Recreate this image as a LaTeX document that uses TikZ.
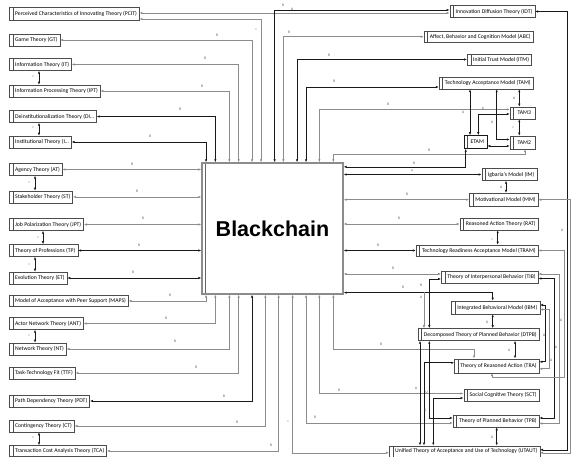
\documentclass[tikz,border=0pt]{standalone}
\usepackage{fontspec}
\setmainfont{Carlito}
\newfontfamily\headfont{Liberation Sans}
\usetikzlibrary{arrows.meta}

\begin{document}
\begin{tikzpicture}
[
	x = 1pt, y = -1pt,
	theory/.style	= {draw = black!70, fill = white, line width = 0.5pt, minimum height = 12pt, inner xsep = 2.4pt, inner ysep = 0pt, font = \fontsize{5.7}{6.5}\selectfont, execute at begin node = \hspace*{3.5pt}, path picture = {\draw [black!70, line width = 0.4pt] ([xshift = 3.5pt]path picture bounding box.north west) -- ([xshift = 3.5pt]path picture bounding box.south west);}},
	lbox/.style	= {theory, anchor = west},
	rbox/.style	= {theory, anchor = east},
	core/.style	= {draw = black!45, line width = 1.3pt, fill = white, minimum width = 141pt, minimum height = 131pt, inner sep = 0pt, font = \headfont\bfseries\fontsize{21.5}{24}\selectfont, path picture = {\draw [black!60, line width = 0.4pt] ([xshift = 3pt]path picture bounding box.north west) -- ([xshift = 3pt]path picture bounding box.south west);}},
	link/.style	= {draw = black!45, line width = 0.6pt, {Latex[length = 3pt, width = 2.4pt]}-{Latex[length = 3pt, width = 2.4pt]}},
	dlink/.style	= {link, draw = black!90},
	tag/.style	= {font = \fontsize{3.6}{4}\selectfont, text = black!70, inner sep = 0pt},
]
	\useasboundingbox (0, 0) rectangle (571, 457);

	\node (bc) [core] at (272.5, 228.5) {Blackchain};

	% left column
	\node (pcit) [lbox, minimum height = 13pt] at (9, 14) {Perceived Characteristics of Innovating Theory (PCIT)};
	\node (gt) [lbox] at (9, 40) {Game Theory (GT)};
	\node (infot) [lbox] at (9, 64.5) {Information Theory (IT)};
	\node (ipt) [lbox] at (9, 91) {Information Processing Theory (IPT)};
	\node (deinst) [lbox] at (9, 116.5) {Deinstitutionalization Theory (DI\ldots};
	\node (inst) [lbox] at (9, 142) {Institutional Theory (I\ldots};
	\node (agt) [lbox] at (9, 169.5) {Agency Theory (AT)};
	\node (st) [lbox] at (9, 197) {Stakeholder Theory (ST)};
	\node (jpt) [lbox] at (9, 224.5) {Job Polarization Theory (JPT)};
	\node (tp) [lbox] at (9, 250.5) {Theory of Professions (TP)};
	\node (et) [lbox] at (9, 278) {Evolution Theory (ET)};
	\node (maps) [lbox, minimum height = 11pt] at (9, 301) {Model of Acceptance with Peer Support (MAPS)};
	\node (ant) [lbox] at (9, 323.5) {Actor Network Theory (ANT)};
	\node (nt) [lbox] at (9, 349) {Network Theory (NT)};
	\node (ttf) [lbox] at (9, 373) {Task-Technology Fit (TTF)};
	\node (pdt) [lbox] at (9, 401) {Path Dependency Theory (PDT)};
	\node (ct) [lbox] at (9, 426) {Contingency Theory (CT)};
	\node (tca) [lbox, minimum height = 11pt] at (9, 451) {Transaction Cost Analysis Theory (TCA)};

	% right column
	\node (idt) [rbox] at (535, 11.5) {Innovation Diffusion Theory (IDT)};
	\node (abc) [rbox, minimum height = 11pt] at (533.3, 36.7) {Affect, Behavior and Cognition Model (ABC)};
	\node (itm) [rbox, minimum height = 11pt] at (531.7, 59.5) {Initial Trust Model (ITM)};
	\node (tam) [rbox] at (533.3, 83) {Technology Acceptance Model (TAM)};
	\node (tam3) [theory, minimum width = 25pt] at (522.5, 113) {TAM3};
	\node (etam) [theory, minimum width = 23pt, minimum height = 13pt, draw = black!90] at (475.5, 142) {ETAM};
	\node (tam2) [theory, minimum width = 25pt, minimum height = 13pt] at (522.5, 142.5) {TAM2};
	\node (im) [rbox] at (537, 174.5) {Igbaria's Model (IM)};
	\node (mm) [rbox, minimum height = 13pt] at (538.3, 199.7) {Motivational Model (MM)};
	\node (rat) [rbox] at (538.3, 224) {Reasoned Action Theory (RAT)};
	\node (tram) [rbox, minimum height = 11pt] at (538.3, 250.5) {Technology Readiness Acceptance Model (TRAM)};
	\node (tib) [rbox] at (538.3, 277) {Theory of Interpersonal Behavior (TIB)};
	\node (ibm) [rbox, minimum height = 13pt] at (540, 307.5) {Integrated Behavioral Model (IBM)};
	\node (dtpb) [rbox] at (539.3, 334.5) {Decomposed Theory of Planned Behavior (DTPB)};
	\node (tra) [rbox, minimum height = 14pt] at (539.3, 365.8) {Theory of Reasoned Action (TRA)};
	\node (sct) [rbox] at (539.3, 395) {Social Cognitive Theory (SCT)};
	\node (tpb) [rbox] at (539.3, 421) {Theory of Planned Behavior (TPB)};
	\node (utaut) [rbox, minimum height = 11pt] at (540, 451.3) {Unified Theory of Acceptance and Use of Technology (UTAUT)};

	\coordinate (fork) at (424, 292);

	% left column into the core
	\draw [link] ([yshift = -5pt]pcit.east) -| ([xshift = 59.7pt]bc.north west);
	\draw [link] (gt.east) -| ([xshift = 50.7pt]bc.north west);
	\draw [link] (infot.east) -| ([xshift = 37.3pt]bc.north west);
	\draw [link] (ipt.east) -| ([xshift = 28pt]bc.north west);
	\draw [dlink] (deinst.east) -| ([xshift = 14pt]bc.north west);
	\draw [dlink] (inst.east) -| ([xshift = 4.7pt]bc.north west);
	%
	\draw [link] (agt.east) -- (agt.east -| bc.west);
	\draw [link] (st.east) -- (st.east -| bc.west);
	\draw [link] (jpt.east) -- (jpt.east -| bc.west);
	\draw [dlink] (tp.east) -- (tp.east -| bc.west);
	\draw [dlink] (et.east) -- (et.east -| bc.west);
	%
	\draw [link] (maps.east) -| ([xshift = 4.7pt]bc.south west);
	\draw [link] (ant.east) -| ([xshift = 14pt]bc.south west);
	\draw [link] (nt.east) -| ([xshift = 28pt]bc.south west);
	\draw [link] (ttf.east) -| ([xshift = 37.3pt]bc.south west);
	\draw [dlink] (pdt.east) -| ([xshift = 50.7pt]bc.south west);
	\draw [link] (ct.east) -| ([xshift = 64pt]bc.south west);
	\draw [link] (tca.east) -| ([xshift = 77.3pt]bc.south west);

	% pairs on the left
	\draw [dlink] ([xshift = 30pt]infot.south west) -- ([xshift = 30pt]ipt.north west);
	\draw [dlink] ([xshift = 30pt]deinst.south west) -- ([xshift = 30pt]inst.north west);
	\draw [dlink] ([xshift = 26pt]agt.south west) -- ([xshift = 26pt]st.north west);
	\draw [dlink] ([xshift = 34pt]jpt.south west) -- ([xshift = 34pt]tp.north west);
	\draw [dlink] ([xshift = 26pt]tp.south west) -- ([xshift = 26pt]et.north west);
	\draw [dlink] ([xshift = 26pt]ant.south west) -- ([xshift = 26pt]nt.north west);
	\draw [dlink] ([xshift = 30pt]ct.south west) -- ([xshift = 30pt]tca.north west);

	% core to the right column, over the top
	\draw [link] ([yshift = 1pt]pcit.east) -- ([yshift = -1.5pt]idt.west);
	\draw [dlink] ([xshift = 73.3pt]bc.north west) |- ([yshift = 1.5pt]idt.west);
	\draw [link] ([xshift = 82pt]bc.north west) |- (abc.west);
	\draw [dlink] ([xshift = 95.7pt]bc.north west) |- (itm.west);
	\draw [dlink] ([xshift = 104.7pt]bc.north west) |- ([yshift = -4pt]tam.west);
	\draw [link] ([xshift = 118pt]bc.north west) |- ([yshift = 3.5pt]tam3.west);
	\draw [link] ([xshift = 132pt]bc.north west) |- ([xshift = 2.5pt, yshift = -5pt]tam2.south) -- ([xshift = 2.5pt]tam2.south);

	% TAM family
	\draw [dlink] ([xshift = -63.3pt]tam.south east) -- ([xshift = -5.5pt]etam.north);
	\draw [dlink] ([xshift = -36.6pt]tam.south east) |- ([yshift = 3pt]tam2.west);
	\draw [dlink] ([xshift = -14pt]tam.south east) -- ([xshift = -3.2pt]tam3.north);
	\draw [dlink] ([xshift = -3.2pt]tam3.south) -- ([xshift = -3.2pt]tam2.north);
	\draw [dlink] ([xshift = 2.8pt]etam.north) |- ([yshift = -1pt]tam3.west);
	\draw [dlink] ([yshift = -4pt]etam.east) -- ([yshift = -3.5pt]tam2.west);

	% core to the right column, on the side
	\draw [dlink] ([yshift = -4.5pt]bc.north east) -| ([xshift = 2pt]etam.south west);
	\draw [dlink] (im.west) -- (im.west -| bc.east);
	\draw [link] (mm.west) -- (mm.west -| bc.east);
	\draw [link] (rat.west) -- (rat.west -| bc.east);
	\draw [dlink] (tram.west) -- (tram.west -| bc.east);
	\draw [link] ([yshift = 3pt]tib.west) -- ([yshift = 3pt]tib.west -| bc.east);
	\draw [dlink] ([yshift = 2pt]bc.south east) -| ([xshift = -47.3pt]ibm.north east);
	\draw [link, {-Latex[length = 3pt, width = 2.4pt]}] (fork) -- ([xshift = -115.3pt]dtpb.north east);

	% core to the right column, under the bottom
	\draw [link] ([yshift = -1.5pt]utaut.west) -| ([xshift = 91.3pt]bc.south west);
	\draw [link] ([yshift = -2pt]tpb.west) -| ([xshift = 104.7pt]bc.south west);
	\draw [link] ([yshift = 1.5pt]sct.west) -| ([xshift = 118pt]bc.south west);
	\draw [link] ([xshift = 132pt]bc.south west) |- ([xshift = -65.3pt, yshift = 9pt]tra.north east) -- ([xshift = -65.3pt]tra.north east);

	% pairs on the right
	\draw [dlink] ([xshift = -31pt]im.south east) -- ([xshift = -32.3pt]mm.north east);
	\draw [dlink] ([xshift = -40.6pt]rat.south east) -- ([xshift = -40.6pt]tram.north east);
	\draw [dlink] ([xshift = -47.3pt]ibm.south east) -- ([xshift = -46.6pt]dtpb.north east);
	\draw [dlink] ([xshift = -24.3pt]dtpb.south east) -- ([xshift = -24.3pt]tra.north east);
	\draw [dlink] ([xshift = -42.6pt]tpb.south east) -- ([xshift = -43.3pt]utaut.north east);

	% behaviour theories among themselves
	\draw [dlink] ([yshift = -2pt]tib.west) -| ([xshift = -110pt]dtpb.north east);
	\draw [dlink] ([xshift = -119.3pt]dtpb.south east) -- ([xshift = -120pt]utaut.north east);
	\draw [dlink] ([yshift = 3pt]tra.west) -| ([xshift = -116pt]utaut.north east);
	\draw [dlink] ([xshift = -110pt]dtpb.south east) |- ([yshift = 3pt]tpb.west);
	\draw [dlink] ([yshift = -3pt]sct.west) -| ([xshift = -106.7pt]utaut.north east);
	%
	\draw [dlink] ([yshift = 2.5pt]ibm.east) -- ++(5, 0) |- ([yshift = 4pt]tra.east);
	\draw [link] ([yshift = -2pt]ibm.east) -- ++(9, 0) |- ([yshift = -3pt]tra.east);
	\draw [dlink] ([yshift = -1.5pt]tib.east) -- ++(15.7, 0) |- ([yshift = 3pt]tpb.east);
	\draw [link] ([yshift = 3pt]tib.east) -- ++(20.7, 0) |- ([yshift = -2.5pt]tpb.east);
	\draw [link] (tram.east) -- ++(25.7, 0) |- ([xshift = -47.3pt, yshift = -4pt]tra.south east) -- ([xshift = -47.3pt]tra.south east);
	\draw [dlink] (idt.east) -- ++(32.5, 0) |- ([yshift = 1.5pt]utaut.east);
	\draw [link] (mm.east) -- ++(32.2, 0) |- ([yshift = -1.5pt]utaut.east);

	% tiny tags on the connectors
	\foreach \n/\x/\y/\t in {
		1/150/136/R, 2/180/109/R, 3/202/86/R, 4/205/58/R, 5/217/35/R, 6/256/30/=,
		7/283/5/R, 8/292/9/U, 9/289/32/R, 10/329/55/R, 11/334/81/R, 12/388/104/R, 13/483/108/A, 14/429/150/R,
		15/414/163/R, 16/412/170.5/a,
		17/33/77/=, 18/33/128/=, 19/29/183/=, 20/38/238/=, 21/29/265/=, 22/29/336/=, 23/33/438/=,
		24/132/164/R, 25/137/191/R, 26/143/218/R, 27/139/245/R, 28/133/272/R,
		29/170/295/R, 30/166/318/R, 31/175/341/R, 32/196/367/R, 33/224/396/R, 34/237/422/R, 35/271/445/R, 36/288/422/=,
		37/315/417/R, 38/339/390/R, 39/381/344/R,
		40/407/194/R, 41/399/218/R, 42/378/245/R, 43/393/268/R, 44/403/287/R, 45/421/285/R, 46/421/297/U,
		47/501/187/U, 48/492/240/=, 49/487/322/U, 50/509/350/U, 51/492/437/U,
		52/463/112/U, 53/492/122/U, 54/514/98/U, 55/513/128/=,
		56/562/230/U, 57/544/335/U, 58/551/360/U, 59/556/347/U, 60/561/320/U,
		61/416/388/U, 62/426.5/392/U, 63/425/410/U
	}
		\node (tag\n) [tag] at (\x, \y) {\t};

\end{tikzpicture}
\end{document}
